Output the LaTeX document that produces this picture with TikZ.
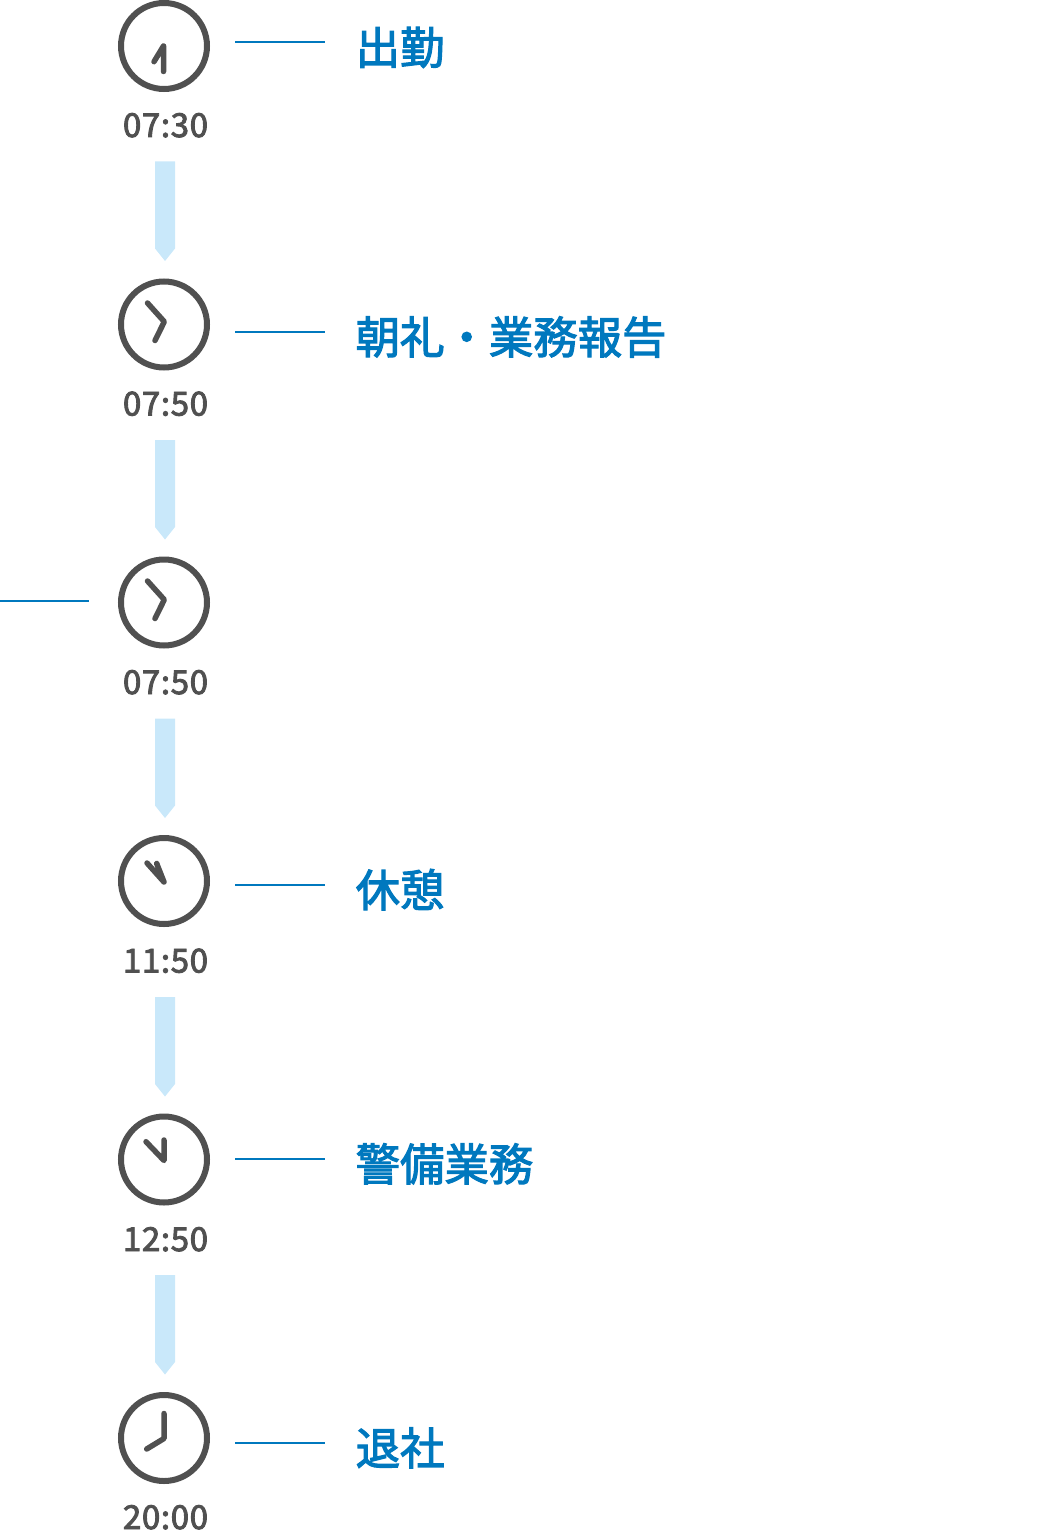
\documentclass[tikz,border=0pt]{standalone}
\usepackage{fontspec}
\setmainfont{Noto Sans CJK JP}
\newfontfamily\timefont{Noto Sans CJK JP}[LetterSpace=2]
\definecolor{hand}{HTML}{505050}
\definecolor{lead}{HTML}{0078BE}
\definecolor{flow}{HTML}{C9E8FA}
\newcommand{\timeink}[1]{\special{pdf:code 2 Tr 0.9 w 0.314 0.314 0.314 RG}#1\special{pdf:code 0 Tr}}
\newcommand{\taskink}[1]{\special{pdf:code 2 Tr 1.1 w 0 0.47 0.745 RG}#1\special{pdf:code 0 Tr}}
\tikzset{
  x=1pt,y=-1pt,
  clockface/.style={circle,draw=hand,line width=6pt,minimum size=86pt,inner sep=0pt},
  clockhand/.style={draw=hand,line width=5.5pt,line cap=round,line join=round},
  timetext/.style={anchor=base,inner sep=0pt,text=hand,font=\timefont\fontsize{33}{33}\selectfont},
  tasktext/.style={anchor=base west,inner sep=0pt,text=lead,font=\fontsize{44.4}{44.4}\selectfont},
  leader/.style={draw=lead,line width=2pt},
  flowarrow/.style={fill=flow,draw=none},
}
\newcommand{\flowdown}[1]{\fill[flowarrow] (155,#1) -- (175,#1) -- (175,#1+87) -- (165,#1+99.5) -- (155,#1+87) -- cycle;}
\begin{document}
\begin{tikzpicture}
\useasboundingbox (0,0) rectangle (1060,1530);
% clocks
\node[clockface] (c1) at (164,46) {};
\node[clockface] (c2) at (164,324.5) {};
\node[clockface] (c3) at (164,602.5) {};
\node[clockface] (c4) at (164,881) {};
\node[clockface] (c5) at (164,1159.5) {};
\node[clockface] (c6) at (164,1438) {};
% hands
\draw[clockhand] (154,61.7) -- (163.5,46) -- (163.5,71.5);
\draw[clockhand] (147.5,303) -- (164.3,321.7) -- (155,340.5);
\draw[clockhand] (147.5,581) -- (164.3,599.7) -- (155,618.5);
\draw[clockhand] (147,863) -- (164,882) -- (156.7,863.5);
\draw[clockhand] (146,1141.7) -- (164,1160.5) -- (164,1140);
\draw[clockhand] (146.7,1449) -- (164,1438.5) -- (164,1413.5);
% times
\node[timetext] (t1) at (165.5,137) {\timeink{07:30}};
\node[timetext] (t2) at (165.5,415.5) {\timeink{07:50}};
\node[timetext] (t3) at (165.5,694) {\timeink{07:50}};
\node[timetext] (t4) at (165.5,972.5) {\timeink{11:50}};
\node[timetext] (t5) at (165.5,1251) {\timeink{12:50}};
\node[timetext] (t6) at (165.5,1529) {\timeink{20:00}};
% flow arrows
\flowdown{161.5}
\flowdown{440}
\flowdown{718.5}
\flowdown{997}
\flowdown{1275}
% task labels
\node[tasktext] (l1) at (355.5,64.2) {\taskink{出勤}};
\node[tasktext] (l2) at (355.5,353.7) {\taskink{朝礼・業務報告}};
\node[tasktext] (l4) at (355.5,906.7) {\taskink{休憩}};
\node[tasktext] (l5) at (355.5,1180.7) {\taskink{警備業務}};
\node[tasktext] (l6) at (355.5,1464.7) {\taskink{退社}};
% leaders
\coordinate (a1) at (235,42); \coordinate (b1) at (325,42);
\coordinate (a2) at (235,332); \coordinate (b2) at (325,332);
\coordinate (a3) at (0,601); \coordinate (b3) at (89,601);
\coordinate (a4) at (235,885); \coordinate (b4) at (325,885);
\coordinate (a5) at (235,1159); \coordinate (b5) at (325,1159);
\coordinate (a6) at (235,1443); \coordinate (b6) at (325,1443);
\draw[leader] (a1) -- (b1);
\draw[leader] (a2) -- (b2);
\draw[leader] (a3) -- (b3);
\draw[leader] (a4) -- (b4);
\draw[leader] (a5) -- (b5);
\draw[leader] (a6) -- (b6);
\end{tikzpicture}
\end{document}
